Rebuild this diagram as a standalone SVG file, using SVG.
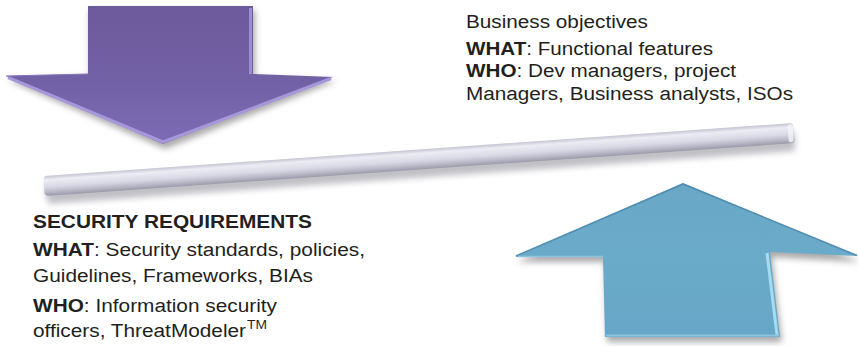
<svg xmlns="http://www.w3.org/2000/svg" width="859" height="346" viewBox="0 0 859 346">
<defs>
  <style>
    .t { font-family: "Liberation Sans", Arial, Helvetica, sans-serif; font-size: 18px; fill: #231f20; }
    .b { font-weight: bold; }
    .sup { font-family: "Liberation Sans", Arial, Helvetica, sans-serif; font-size: 12px; fill: #231f20; }
  </style>
  <filter id="blur" x="-10%" y="-30%" width="120%" height="160%">
    <feGaussianBlur stdDeviation="3"/>
  </filter>
  <linearGradient id="purple" x1="0" y1="0" x2="0" y2="1">
    <stop offset="0" stop-color="#6c5a9b"/>
    <stop offset="0.55" stop-color="#7361a6"/>
    <stop offset="1" stop-color="#7d6bb6"/>
  </linearGradient>
  <linearGradient id="blue" x1="0" y1="0" x2="0" y2="1">
    <stop offset="0" stop-color="#6aa7c6"/>
    <stop offset="0.5" stop-color="#6babca"/>
    <stop offset="1" stop-color="#67a6c6"/>
  </linearGradient>
  <linearGradient id="bar" x1="0" y1="0" x2="0" y2="1">
    <stop offset="0" stop-color="#c4c4d4"/>
    <stop offset="0.2" stop-color="#ececf3"/>
    <stop offset="0.55" stop-color="#d9d9e6"/>
    <stop offset="0.8" stop-color="#b9b9c8"/>
    <stop offset="1" stop-color="#9a9aa8"/>
  </linearGradient>
</defs>

<g id="balance-bar">
  <g transform="translate(44,186) rotate(-4.04)">
    <rect x="2" y="-2" width="750" height="20" rx="4" fill="#8a8a94" opacity="0.55" filter="url(#blur)"/>
    <rect x="0" y="-10" width="752" height="20" rx="4" fill="url(#bar)"/>
    <rect x="746" y="-9" width="5" height="18" rx="2" fill="#f4f4f8" opacity="0.8"/>
  </g>
</g>

<g id="arrow-down">
  <polygon points="90,10 255,10 255,78 336,81 165,149 8,80 90,77" fill="#555" opacity="0.5" filter="url(#blur)"/>
  <polygon points="88,6 253,6 253,74 333,77 163,144 6,76 88,74" fill="url(#purple)"/>
  <polyline points="8,77.5 163,142 331,78.5" fill="none" stroke="#a797da" stroke-width="3" stroke-linejoin="round"/>
  <line x1="250.5" y1="8" x2="250.5" y2="74" stroke="#9d8dd2" stroke-width="3"/>
  <line x1="88" y1="74" x2="6" y2="76" stroke="#8676bd" stroke-width="1"/>
</g>

<g id="arrow-up">
  <polygon points="685,188 860,262 772,257 782,342 607,342 605,262 517,262" fill="#555" opacity="0.5" filter="url(#blur)"/>
  <polygon points="683,183 858,256 770,252 780,337 605,337 603,257 515,257" fill="url(#blue)"/>
  <polyline points="516,256 683,184 857,255.5" fill="none" stroke="#4f8db0" stroke-width="1.5" stroke-linejoin="round"/>
  <line x1="767" y1="253" x2="777" y2="335" stroke="#a6dcf0" stroke-width="3"/>
  <line x1="606" y1="335.5" x2="779" y2="335.5" stroke="#8cc4de" stroke-width="2"/>
  <line x1="518" y1="256.5" x2="603" y2="256.5" stroke="#8cc4de" stroke-width="1.5"/>
</g>

<g id="text-right">
  <text class="t" x="466" y="28" textLength="182" lengthAdjust="spacingAndGlyphs">Business objectives</text>
  <text class="t" x="466" y="55" textLength="247" lengthAdjust="spacingAndGlyphs"><tspan class="b">WHAT</tspan>: Functional features</text>
  <text class="t" x="466" y="77" textLength="270" lengthAdjust="spacingAndGlyphs"><tspan class="b">WHO</tspan>: Dev managers, project</text>
  <text class="t" x="466" y="100" textLength="327" lengthAdjust="spacingAndGlyphs">Managers, Business analysts, ISOs</text>
</g>

<g id="text-left">
  <text class="t b" x="33" y="228" textLength="279" lengthAdjust="spacingAndGlyphs">SECURITY REQUIREMENTS</text>
  <text class="t" x="33" y="256" textLength="332" lengthAdjust="spacingAndGlyphs"><tspan class="b">WHAT</tspan>: Security standards, policies,</text>
  <text class="t" x="33" y="282" textLength="280" lengthAdjust="spacingAndGlyphs">Guidelines, Frameworks, BIAs</text>
  <text class="t" x="33" y="312" textLength="244" lengthAdjust="spacingAndGlyphs"><tspan class="b">WHO</tspan>: Information security</text>
  <text class="t" x="33" y="337" textLength="213" lengthAdjust="spacingAndGlyphs">officers, ThreatModeler</text>
  <text class="sup" x="247" y="329" textLength="20" lengthAdjust="spacingAndGlyphs">TM</text>
</g>
</svg>
